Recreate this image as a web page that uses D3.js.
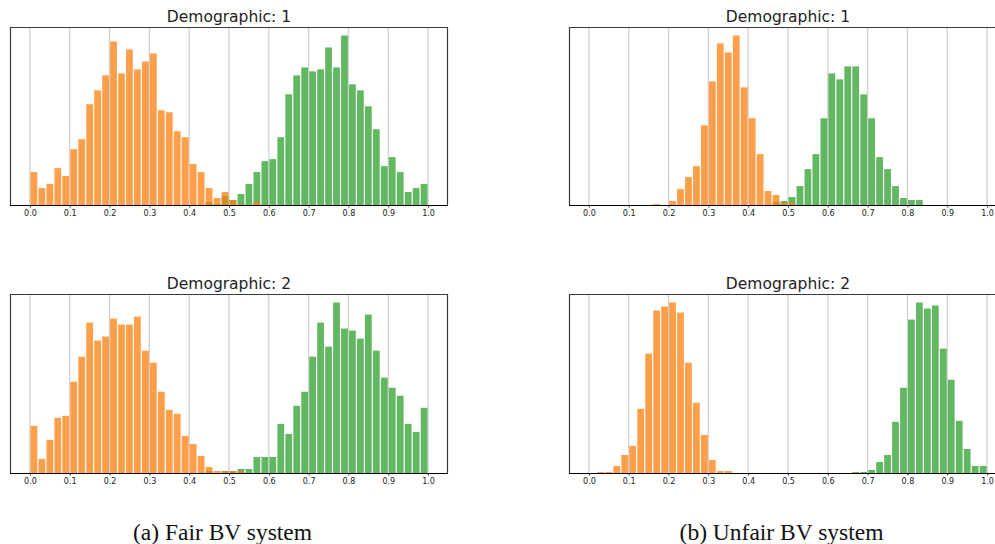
<!DOCTYPE html>
<html>
<head>
<meta charset="utf-8">
<script src="https://cdn.jsdelivr.net/npm/d3@7"></script>
<style>
  html, body { margin: 0; padding: 0; background: #fff; }
  svg { display: block; }
</style>
</head>
<body>
<svg id="chart" width="995" height="544"></svg>
<script>
// ---------- data (50 bins of width 0.02 over [0, 1]) ----------
const binEdges = d3.range(50).map(i => +(i * 0.02).toFixed(2));
const xTicks = [0.0, 0.1, 0.2, 0.3, 0.4, 0.5, 0.6, 0.7, 0.8, 0.9, 1.0];
const titles = ["Demographic: 1", "Demographic: 2", "Demographic: 1", "Demographic: 2"];
const captions = ["(a) Fair BV system", "(b) Unfair BV system"];

// Fair system, demographic 1
const fair1Orange = [33,17,21,37,29,56,66,101,115,130,164,132,156,136,144,152,95,93,74,68,41,33,17,7,13,5,1,0,3,0,
  0,0,0,0,0,0,0,0,0,0,0,0,0,0,0,0,0,0,0,0];
const fair1Green = [0,0,0,0,0,0,0,0,0,0,0,0,0,0,0,0,0,0,0,0,0,0,3,1,9,5,11,21,33,44,
  46,68,111,130,138,134,136,158,138,170,121,115,99,76,39,48,33,13,17,21];
// Fair system, demographic 2
const fair2Orange = [47,14,33,55,57,91,116,150,132,136,154,148,148,156,122,110,81,63,59,37,29,17,6,2,2,2,2,0,0,0,
  0,0,0,0,0,0,0,0,0,0,0,0,0,0,0,0,0,0,0,0];
const fair2Green = [0,0,0,0,0,0,0,0,0,0,0,0,0,0,0,0,0,0,0,0,0,0,2,0,2,2,4,4,16,16,
  16,49,39,67,81,116,150,126,170,144,142,134,158,122,95,85,77,49,41,65];
// Unfair system, demographic 1
const unfair1Orange = [0,0,0,0,0,0,0,0,1,0,4,16,28,39,80,124,162,153,170,118,87,51,14,10,2.3,2.3,0,0,0,0,
  0,0,0,0,0,0,0,0,0,0,0,0,0,0,0,0,0,0,0,0];
const unfair1Green = [0,0,0,0,0,0,0,0,0,0,0,0,0,0,0,0,0,0,0,0,0,0,0,3.3,4,8,19,36,51,87,
  132,126,139,139,111,87,48,36,19,7,5,5,0,0,0,0,0,0,0,0];
// Unfair system, demographic 2
const unfair2Orange = [0,1,1,7,18,27,64,119,162,166,170,160,110,70,38,13,2,2,0,0,0,0,0,0,0,0,0,0,0,0,
  0,0,0,0,0,0,0,0,0,0,0,0,0,0,0,0,0,0,0,0];
const unfair2Green = [0,0,0,0,0,0,0,0,0,0,0,0,0,0,0,0,0,0,0,0,0,0,0,0,0,0,0,0,0,0,
  0,0,0,1,1,3,11,18,51,85,153,170,164,167,124,93,52,24,7,7];

const panels = [
  { orange: fair1Orange, green: fair1Green, title: titles[0], left: 10, top: 27, bottom: 205 },
  { orange: fair2Orange, green: fair2Green, title: titles[1], left: 10, top: 294, bottom: 473 },
  { orange: unfair1Orange, green: unfair1Green, title: titles[2], left: 569, top: 27, bottom: 205 },
  { orange: unfair2Orange, green: unfair2Green, title: titles[3], left: 569, top: 294, bottom: 473 }
];

// ---------- drawing ----------
const svg = d3.select("#chart");
const panelW = 438;
const binW = 0.02, rwidth = 0.85;
const orangeCol = "#ff7f0e", greenCol = "#2ca02c", barAlpha = 0.75;

panels.forEach(p => {
  const x = d3.scaleLinear().domain([-0.05, 1.05]).range([p.left, p.left + panelW]);
  const maxV = d3.max(p.orange.concat(p.green));
  const y = d3.scaleLinear().domain([0, maxV * 1.05]).range([p.bottom, p.top]);
  const g = svg.append("g");

  // vertical grid
  g.selectAll("line.grid").data(xTicks).join("line")
    .attr("x1", d => x(d)).attr("x2", d => x(d))
    .attr("y1", p.top).attr("y2", p.bottom)
    .attr("stroke", "#d0d0d0").attr("stroke-width", 1.3);

  const drawSeries = (vals, col) => {
    g.append("g").selectAll("rect").data(vals.map((v, i) => ({ x0: binEdges[i], v })).filter(d => d.v > 0))
      .join("rect")
      .attr("x", d => x(d.x0 + binW * (1 - rwidth) / 2))
      .attr("width", d => x(d.x0 + binW * (1 + rwidth) / 2) - x(d.x0 + binW * (1 - rwidth) / 2))
      .attr("y", d => y(d.v))
      .attr("height", d => y(0) - y(d.v))
      .attr("fill", col).attr("fill-opacity", barAlpha);
  };
  drawSeries(p.green, greenCol);
  drawSeries(p.orange, orangeCol);

  // frame (top/left/right spines)
  g.append("path")
    .attr("d", `M${p.left + 0.5},${p.bottom}V${p.top + 0.5}H${p.left + panelW - 0.5}V${p.bottom}`)
    .attr("fill", "none").attr("stroke", "#3a3a3a").attr("stroke-width", 1.2);

  // x axis
  const axis = d3.axisBottom(x).tickValues(xTicks).tickFormat(d3.format(".1f"))
    .tickSize(2.5).tickPadding(3).tickSizeOuter(0);
  const ax = g.append("g").attr("transform", `translate(0,${p.bottom})`).call(axis);
  ax.select(".domain").attr("stroke", "#000").attr("stroke-width", 1.2)
    .attr("d", `M${p.left},0.5H${p.left + panelW}`);
  ax.selectAll(".tick line").attr("stroke", "#000").attr("stroke-width", 0.8);
  ax.selectAll(".tick text").attr("font-family", "DejaVu Sans").attr("font-size", 8).attr("fill", "#222");

  // title
  g.append("text")
    .attr("x", p.left + panelW / 2).attr("y", p.top - 5)
    .attr("text-anchor", "middle")
    .attr("font-family", "DejaVu Sans").attr("font-size", 15.5).attr("fill", "#222")
    .text(p.title);
});

// captions
const capX = [222.5, 781.5];
svg.selectAll("text.caption").data(captions).join("text")
  .attr("class", "caption")
  .attr("x", (d, i) => capX[i]).attr("y", 540)
  .attr("text-anchor", "middle")
  .attr("font-family", "Liberation Serif, Times New Roman, serif").attr("font-size", 23.5)
  .attr("fill", "#111")
  .text(d => d);
</script>
</body>
</html>
